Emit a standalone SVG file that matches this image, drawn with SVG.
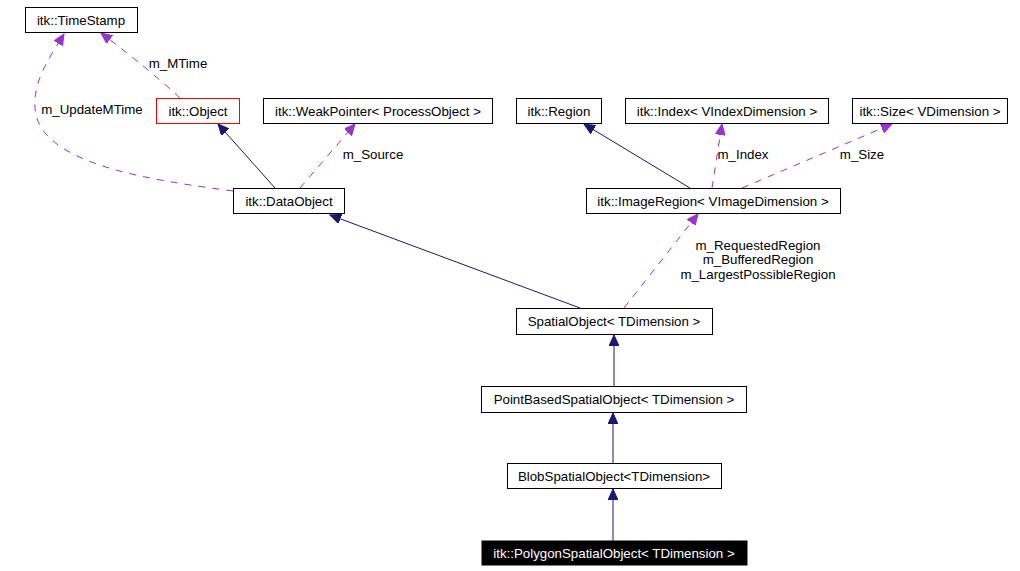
<svg xmlns="http://www.w3.org/2000/svg" width="1020" height="571" viewBox="0 0 1020 571">
<style>
text{font-family:"Liberation Sans",Arial,sans-serif;font-size:13.3px;text-anchor:middle;fill:#000}
.box{fill:#fff;stroke:#000;stroke-width:1}
.red{fill:#fff;stroke:#ff0000;stroke-width:1}
.inh{fill:none;stroke:#191970;stroke-width:1;marker-end:url(#an)}
.use{fill:none;stroke:#9a32cd;stroke-width:1;stroke-dasharray:7,7;marker-end:url(#ap)}
</style>
<defs>
<marker id="an" markerUnits="userSpaceOnUse" markerWidth="12" markerHeight="10" refX="11" refY="5" orient="auto">
<path d="M0,0 L11,5 L0,10 z" fill="#191970" stroke="#191970"/>
</marker>
<marker id="ap" markerUnits="userSpaceOnUse" markerWidth="12" markerHeight="10" refX="11" refY="5" orient="auto">
<path d="M0,0 L11,5 L0,10 z" fill="#9a32cd" stroke="#9a32cd"/>
</marker>
</defs>
<rect width="1020" height="571" fill="#fff"/>
<g id="edges">
<path class="use" d="M180,98 Q150,70 101,33"/>
<path class="use" d="M233,191 C150,180 48,165 36,115 C30,85 48,60 64,34"/>
<path class="inh" d="M275,188 L218,124"/>
<path class="use" d="M300,188 L355,124"/>
<path class="inh" d="M690,188 L584,124"/>
<path class="use" d="M712,188 L722,124"/>
<path class="use" d="M742,188 L892,124"/>
<path class="inh" d="M580,308 L330,215"/>
<path class="use" d="M624,308 L698,214"/>
<path class="inh" d="M614,386 L614,335"/>
<path class="inh" d="M613,463 L613,413"/>
<path class="inh" d="M613,541 L613,489"/>
<text x="178" y="68">m_MTime</text>
<text x="92" y="114">m_UpdateMTime</text>
<text x="373" y="159">m_Source</text>
<text x="743" y="159">m_Index</text>
<text x="862" y="159">m_Size</text>
<text x="758" y="250">m_RequestedRegion</text>
<text x="758" y="264">m_BufferedRegion</text>
<text x="758" y="279">m_LargestPossibleRegion</text>
</g>
<g id="n_timestamp"><rect class="box" x="25.5" y="7.5" width="112" height="25"/><text x="81" y="24.5">itk::TimeStamp</text></g>
<g id="n_object"><rect class="red" x="156.5" y="98.5" width="83" height="25"/><text x="198" y="115.5">itk::Object</text></g>
<g id="n_weakpointer"><rect class="box" x="263.5" y="98.5" width="229" height="25"/><text x="378" y="115.5">itk::WeakPointer&lt; ProcessObject &gt;</text></g>
<g id="n_region"><rect class="box" x="516.5" y="98.5" width="85" height="25"/><text x="559" y="115.5">itk::Region</text></g>
<g id="n_index"><rect class="box" x="625.5" y="98.5" width="203" height="25"/><text x="727" y="115.5">itk::Index&lt; VIndexDimension &gt;</text></g>
<g id="n_size"><rect class="box" x="852.5" y="98.5" width="155" height="25"/><text x="930" y="115.5">itk::Size&lt; VDimension &gt;</text></g>
<g id="n_dataobject"><rect class="box" x="233.5" y="188.5" width="111" height="25"/><text x="289" y="205.5">itk::DataObject</text></g>
<g id="n_imageregion"><rect class="box" x="586.5" y="188.5" width="254" height="25"/><text x="713" y="205.5">itk::ImageRegion&lt; VImageDimension &gt;</text></g>
<g id="n_spatialobject"><rect class="box" x="516.5" y="308.5" width="196" height="26"/><text x="614" y="326">SpatialObject&lt; TDimension &gt;</text></g>
<g id="n_pointbased"><rect class="box" x="481.5" y="386.5" width="265" height="26"/><text x="614" y="404">PointBasedSpatialObject&lt; TDimension &gt;</text></g>
<g id="n_blob"><rect class="box" x="507.5" y="463.5" width="214" height="25"/><text x="614" y="480.5">BlobSpatialObject&lt;TDimension&gt;</text></g>
<g id="n_polygon"><rect x="482" y="541" width="265" height="24" fill="#000" stroke="#000"/><text x="614" y="558" style="fill:#fff">itk::PolygonSpatialObject&lt; TDimension &gt;</text></g>
</svg>
